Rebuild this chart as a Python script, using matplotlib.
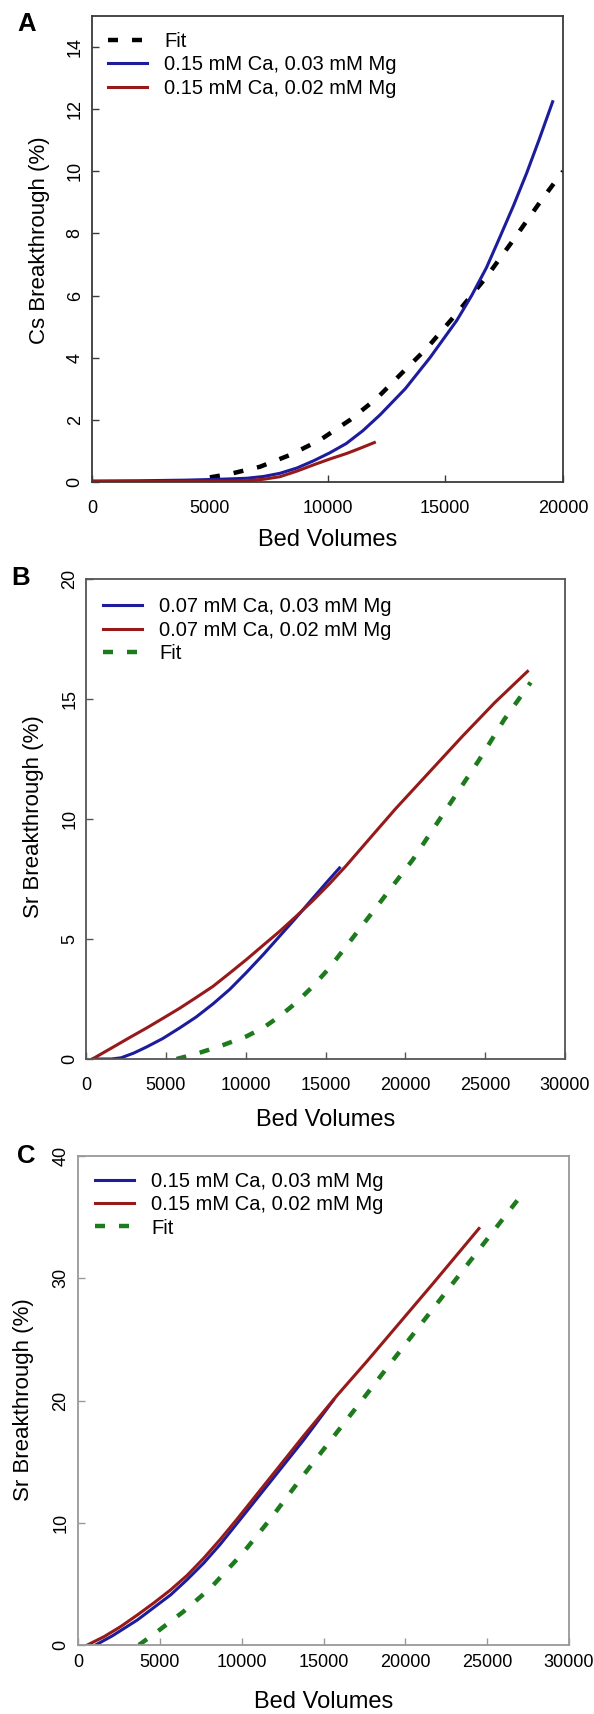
import numpy as np
import matplotlib
matplotlib.use("Agg")
import matplotlib.pyplot as plt

plt.rcParams['font.family'] = ['Liberation Sans', 'DejaVu Sans']

# Panel A: Cs breakthrough
a_blue_x = [0, 2000, 4000, 5500, 6570, 7300, 7980, 8700, 9400, 10100, 10800, 11500,
            12230, 13300, 14350, 15490, 16120, 16750, 17330, 17900, 18460, 19000, 19560]
a_blue_y = [0.03, 0.04, 0.06, 0.09, 0.12, 0.18, 0.28, 0.45, 0.68, 0.94, 1.24, 1.65,
            2.16, 3.0, 4.0, 5.2, 6.0, 6.9, 7.9, 8.9, 9.95, 11.05, 12.24]
a_red_x = [0, 3000, 6000, 6570, 7300, 7980, 8700, 9400, 10100, 10820, 11400, 11990]
a_red_y = [0.02, 0.02, 0.03, 0.04, 0.09, 0.17, 0.35, 0.55, 0.74, 0.92, 1.09, 1.27]
a_fit_x = [5010, 5860, 7130, 8410, 9680, 10960, 12090, 13150, 14210, 15490, 16760,
           17890, 19090, 20000]
a_fit_y = [0.15, 0.26, 0.49, 0.87, 1.35, 2.0, 2.69, 3.5, 4.3, 5.43, 6.61, 7.79, 9.08, 10.0]

# Panel B: Sr breakthrough, 0.07 mM Ca
b_blue_x = [440, 1600, 2200, 3000, 3790, 4800, 5880, 6900, 7960, 9000, 10040, 11100,
            12130, 13200, 14210, 15100, 15875]
b_blue_y = [0, 0, 0.05, 0.25, 0.5, 0.85, 1.3, 1.75, 2.3, 2.9, 3.6, 4.35,
            5.12, 5.92, 6.7, 7.38, 7.96]
b_red_x = [400, 1710, 2750, 3790, 4830, 5880, 6920, 7960, 9000, 10040, 11080, 12130,
           13170, 14210, 15250, 16290, 17850, 19420, 21500, 23580, 25600, 27650]
b_red_y = [0, 0.5, 0.9, 1.29, 1.7, 2.12, 2.57, 3.03, 3.58, 4.14, 4.73, 5.32,
           5.95, 6.6, 7.3, 8.05, 9.25, 10.45, 11.95, 13.45, 14.85, 16.15]
b_fit_x = [5670, 6920, 8380, 10040, 11100, 12130, 13170, 14210, 15250, 16290, 18100,
           20460, 22960, 24630, 26190, 27850]
b_fit_y = [0, 0.22, 0.53, 0.94, 1.3, 1.78, 2.35, 3.03, 3.8, 4.69, 6.25,
           8.3, 10.8, 12.47, 14.14, 15.69]

# Panel C: Sr breakthrough, 0.15 mM Ca
c_blue_x = [1080, 2100, 3620, 5650, 6670, 7680, 8700, 9720, 11750, 13780, 15610]
c_blue_y = [0, 0.75, 2.04, 4.09, 5.35, 6.7, 8.25, 9.95, 13.35, 16.76, 20.03]
c_red_x = [573, 1590, 2600, 3620, 4640, 5650, 6670, 7680, 8700, 9720, 11750, 13780,
           15820, 17650, 21710, 24500]
c_red_y = [0, 0.68, 1.5, 2.45, 3.45, 4.5, 5.7, 7.1, 8.65, 10.3, 13.7, 17.1,
           20.4, 23.2, 29.6, 34.07]
c_fit_x = [3720, 4840, 6460, 8090, 10120, 11750, 13780, 15410, 17340, 19070, 23140, 27360]
c_fit_y = [0, 1.09, 2.75, 4.65, 7.6, 10.3, 13.9, 16.7, 20.0, 23.0, 30.0, 37.26]

lab_a = ['Fit', '0.15 mM Ca, 0.03 mM Mg', '0.15 mM Ca, 0.02 mM Mg']
lab_b = ['0.07 mM Ca, 0.03 mM Mg', '0.07 mM Ca, 0.02 mM Mg', 'Fit']
lab_c = ['0.15 mM Ca, 0.03 mM Mg', '0.15 mM Ca, 0.02 mM Mg', 'Fit']

BLUE = '#1c1c9c'
RED = '#961a1a'
GREEN = '#1d7a1d'
DASH = (0, (2.25, 3.15))

W, H = 594, 1714
fig = plt.figure(figsize=(W / 100, H / 100), dpi=100)


def make_ax(left, right, top, bottom):
    return fig.add_axes([left / W, 1 - bottom / H, (right - left) / W, (bottom - top) / H])


def style(ax, xlim, ylim, xt, yt, ylab, edge, xpad, ypad, ylx, yly, xly):
    ax.set_xlim(*xlim)
    ax.set_ylim(*ylim)
    ax.set_xticks(xt)
    ax.set_yticks(yt)
    for s in ax.spines.values():
        s.set_color(edge)
        s.set_linewidth(1.3)
    ax.tick_params(direction='in', length=5, width=1.0, color=edge, labelsize=13)
    ax.tick_params(axis='x', pad=xpad)
    ax.tick_params(axis='y', pad=ypad, labelrotation=90)
    for t in ax.get_yticklabels():
        t.set_va('center')
    ax.set_xlabel('Bed Volumes', fontsize=17)
    ax.set_ylabel(ylab, fontsize=16)
    ax.yaxis.set_label_coords(ylx, yly)
    ax.xaxis.set_label_coords(0.5, xly)


leg_kw = dict(loc='upper left', frameon=False, fontsize=14.5, handlelength=1.95,
              handletextpad=0.85, labelspacing=0.22, borderpad=0, borderaxespad=0)

# A
ax = make_ax(92, 563, 16, 482)
ax.plot(a_fit_x, a_fit_y, color='black', lw=3.2, ls=DASH, label=lab_a[0])
ax.plot(a_blue_x, a_blue_y, color=BLUE, lw=2.2, label=lab_a[1])
ax.plot(a_red_x, a_red_y, color=RED, lw=2.2, label=lab_a[2])
style(ax, (0, 20000), (0, 15), np.arange(0, 20001, 5000), np.arange(0, 15, 2),
      'Cs Breakthrough (%)', '#3a3a3a', 13, 6, -0.090, 0.518, -0.101)
ax.legend(bbox_to_anchor=(0.034, 0.966), **leg_kw)

# B
ax = make_ax(86, 565, 579, 1059)
ax.plot(b_blue_x, b_blue_y, color=BLUE, lw=2.2, label=lab_b[0])
ax.plot(b_red_x, b_red_y, color=RED, lw=2.2, label=lab_b[1])
ax.plot(b_fit_x, b_fit_y, color=GREEN, lw=3.2, ls=DASH, label=lab_b[2])
style(ax, (0, 30000), (0, 20), np.arange(0, 30001, 5000), np.arange(0, 21, 5),
      'Sr Breakthrough (%)', '#555555', 13, 5.5, -0.088, 0.504, -0.105)
ax.legend(bbox_to_anchor=(0.035, 0.962), **leg_kw)

# C
ax = make_ax(78, 569, 1156, 1645)
ax.plot(c_blue_x, c_blue_y, color=BLUE, lw=2.2, label=lab_c[0])
ax.plot(c_red_x, c_red_y, color=RED, lw=2.2, label=lab_c[1])
ax.plot(c_fit_x, c_fit_y, color=GREEN, lw=3.2, ls=DASH, label=lab_c[2])
style(ax, (0, 30000), (0, 40), np.arange(0, 30001, 5000), np.arange(0, 41, 10),
      'Sr Breakthrough (%)', '#999999', 6.5, 6.3, -0.090, 0.501, -0.095)
ax.legend(bbox_to_anchor=(0.034, 0.968), **leg_kw)

for letter, x, y in [('A', 26.7, 24), ('B', 21, 578), ('C', 26.5, 1156)]:
    fig.text(x / W, 1 - y / H, letter, fontsize=18.5, fontweight='bold',
             ha='center', va='center')

fig.savefig('out.png', dpi=100)
